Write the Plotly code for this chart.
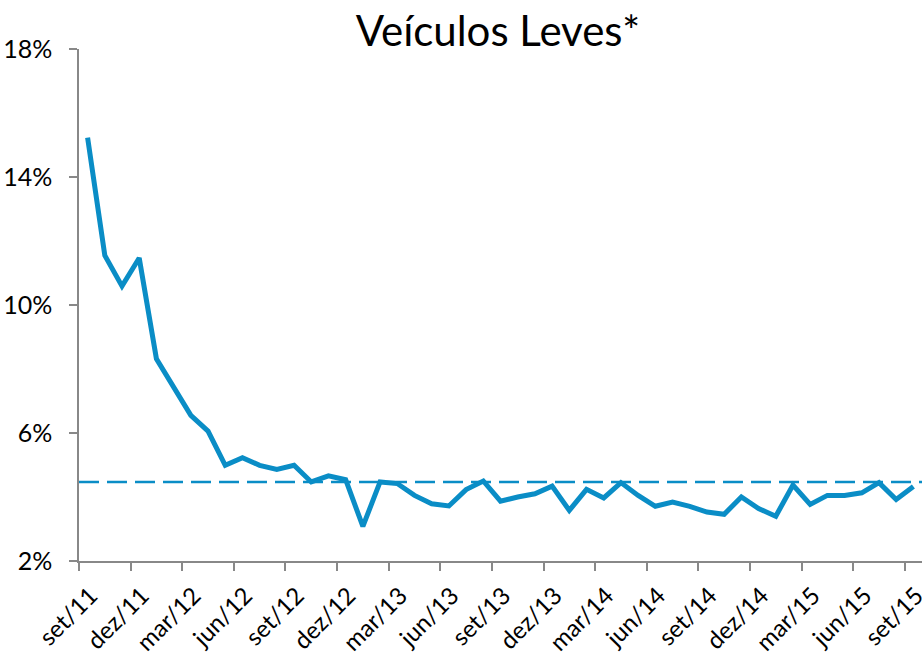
import plotly.graph_objects as go

cal = ["jan", "fev", "mar", "abr", "mai", "jun", "jul", "ago", "set", "out", "nov", "dez"]
# categories: set/11 .. set/15 (49 months)
categories = []
mo, yr = 8, 11
for _ in range(49):
    categories.append(f"{cal[mo]}/{yr}")
    mo += 1
    if mo == 12:
        mo = 0
        yr += 1

values = [15.23, 11.55, 10.59, 11.47, 8.32, 7.40, 6.55, 6.06, 4.99, 5.23,
          4.99, 4.86, 4.99, 4.47, 4.66, 4.54, 3.08, 4.47, 4.42, 4.05,
          3.79, 3.72, 4.23, 4.50, 3.87, 4.00, 4.10, 4.34, 3.58, 4.24,
          3.97, 4.45, 4.05, 3.71, 3.84, 3.71, 3.53, 3.46, 4.00, 3.64,
          3.40, 4.37, 3.77, 4.05, 4.05, 4.13, 4.45, 3.92, 4.33]
benchmark = 4.47

# every third month is labelled
label_idx = list(range(0, len(categories), 3))
label_text = [categories[i] for i in label_idx]

y_ticks = [2, 6, 10, 14, 18]
y_tick_text = [f"{v}%" for v in y_ticks]

color = "#0A8DC6"
font_family = "Lato, Carlito, Calibri, sans-serif"

fig = go.Figure()
fig.add_trace(go.Scatter(
    x=categories, y=values, mode="lines",
    line=dict(color=color, width=5), showlegend=False, hoverinfo="skip",
))
# invisible helper trace that carries the tick-label axis
fig.add_trace(go.Scatter(
    x=label_idx, y=[values[i] for i in label_idx], xaxis="x2", yaxis="y",
    mode="markers", marker=dict(opacity=0, size=1), showlegend=False, hoverinfo="skip",
))
fig.add_shape(type="line", xref="paper", x0=0, x1=1, yref="y",
              y0=benchmark, y1=benchmark,
              line=dict(color=color, width=2.5, dash="20px,8px"))

n = len(categories)
px_per_cat = (922 - 79) / n
label_shift = 3 / px_per_cat  # small nudge of the labels to the right of the category centre

fig.update_layout(
    width=922, height=652,
    margin=dict(l=79, r=0, t=49, b=91),
    paper_bgcolor="white", plot_bgcolor="white",
    font=dict(family=font_family, color="black", size=24),
    title=dict(text="Veículos Leves*", x=0.54, xanchor="center",
               yref="container", y=1 - 31 / 652, yanchor="middle",
               font=dict(size=42, family=font_family, color="black")),
    xaxis=dict(
        type="category", tickson="boundaries", tickmode="linear", tick0=0, dtick=3,
        ticks="outside", ticklen=8, tickwidth=1.5, tickcolor="#888888",
        showline=True, linecolor="#888888", linewidth=1.5, showgrid=False,
        range=[-0.5, n - 0.5], showticklabels=False, automargin=False,
    ),
    xaxis2=dict(
        overlaying="x", anchor="y", side="bottom", type="linear",
        range=[-0.5, n - 0.5],
        tickmode="array", tickvals=[i + label_shift for i in label_idx], ticktext=label_text,
        tickangle=-45, ticks="outside", ticklen=10, tickcolor="rgba(0,0,0,0)",
        showline=False, showgrid=False, zeroline=False,
        tickfont=dict(size=24), automargin=False, ticklabeloverflow="allow",
    ),
    yaxis=dict(
        range=[2, 18], tickvals=y_ticks, ticktext=y_tick_text,
        ticks="outside", ticklen=8, tickwidth=1.5, tickcolor="#888888",
        showline=True, linecolor="#888888", linewidth=1.5, showgrid=False,
        zeroline=False, ticklabelstandoff=12, tickfont=dict(size=25), automargin=False,
    ),
)

fig.write_html("out.html", config={"displayModeBar": False})

# remove the browser's default body margin so the figure sits at the page origin
with open("out.html", "r", encoding="utf-8") as f:
    html = f.read()
html = html.replace("<head>", "<head><style>html,body{margin:0;padding:0;overflow:hidden;}</style>", 1)
with open("out.html", "w", encoding="utf-8") as f:
    f.write(html)
